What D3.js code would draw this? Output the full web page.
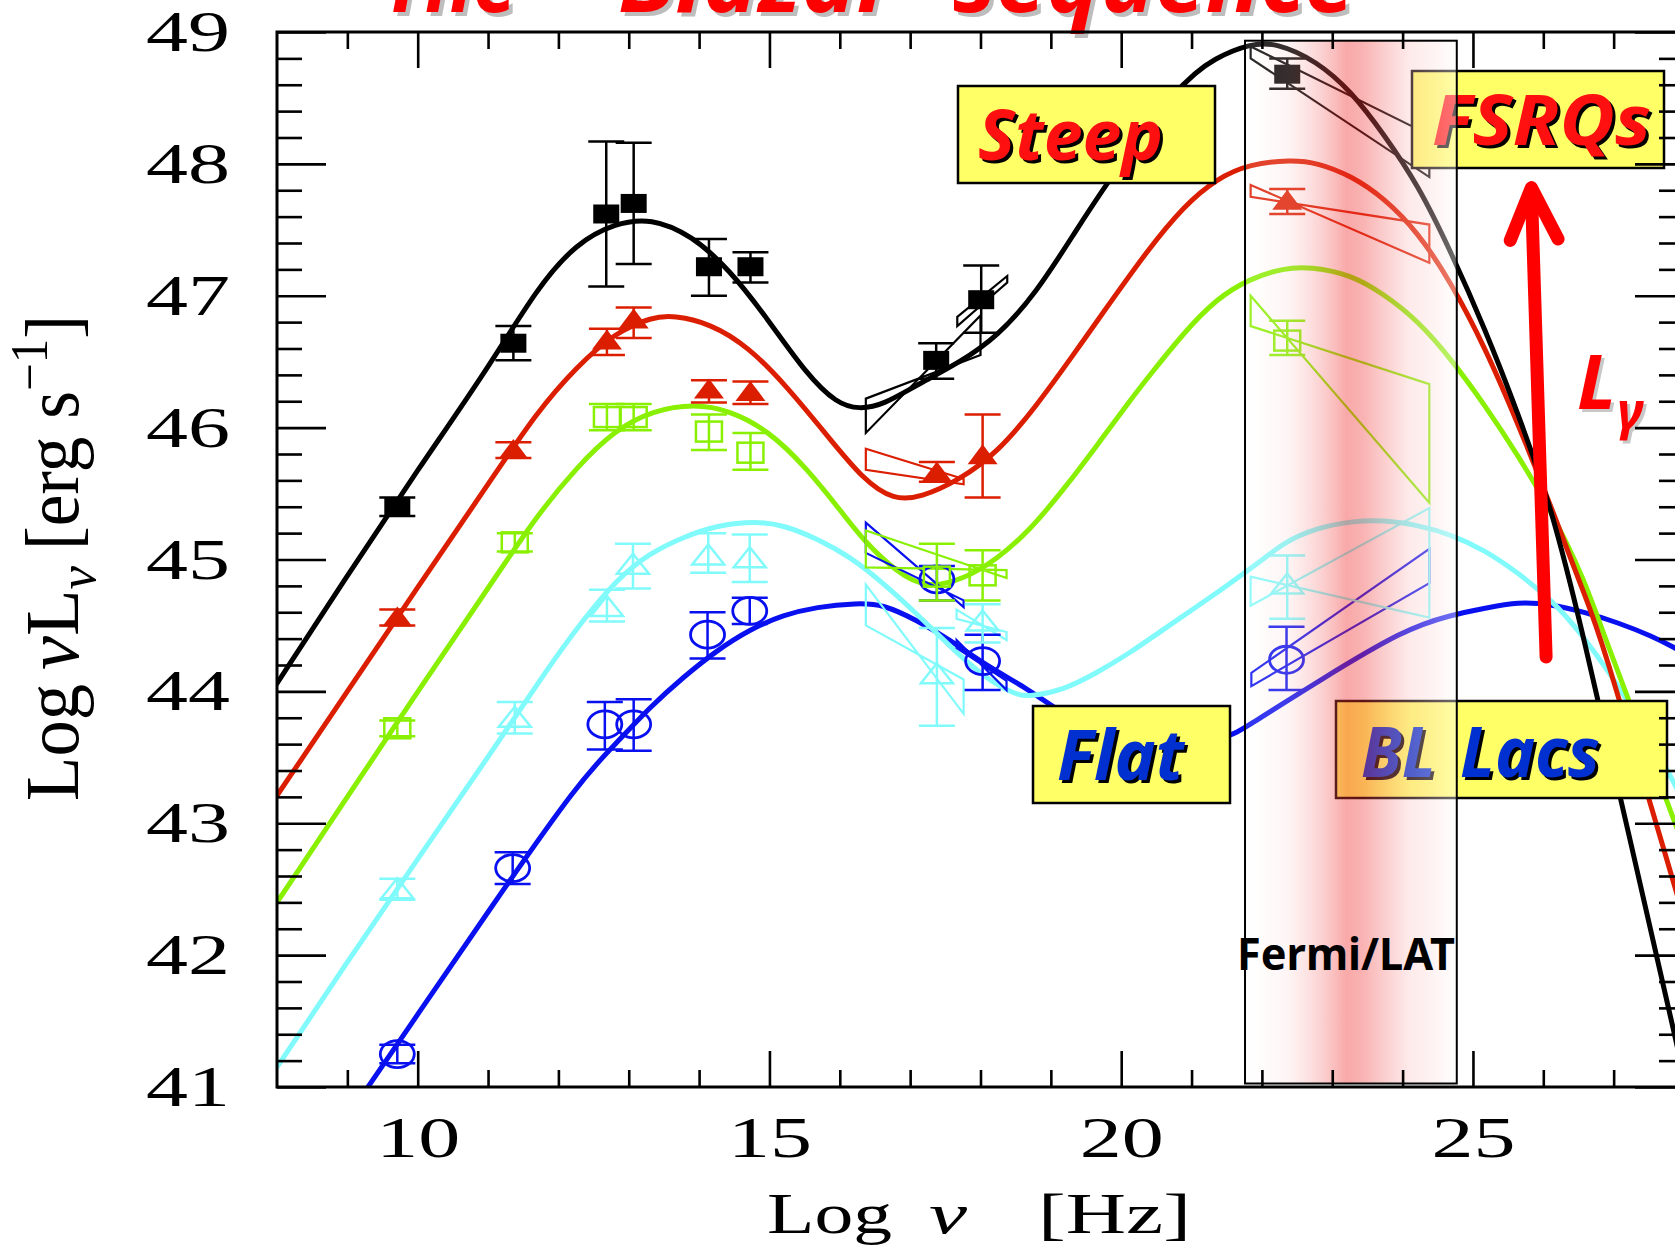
<!DOCTYPE html>
<html><head><meta charset="utf-8">
<script src="https://cdn.jsdelivr.net/npm/d3@7"></script>
<style>html,body{margin:0;padding:0;background:#fff;overflow:hidden}</style>
</head><body>
<svg id="chart" width="1675" height="1247" xmlns="http://www.w3.org/2000/svg"></svg>
<script>
// ---------------- DATA ----------------
const xTickLabels = [10, 15, 20, 25];
const yTickLabels = [41, 42, 43, 44, 45, 46, 47, 48, 49];
const xDomain = [8, 28];
const yDomain = [41, 49];
const fermiBand = [21.76, 24.77];

// model SED curves [log nu, log nuLnu]
const curveBlack = [[8,44.06],[9,44.88],[10,45.68],[11,46.45],[11.71,47.07],[12.26,47.40],[12.8,47.55],[13.32,47.59],[13.89,47.46],[14.43,47.20],[14.98,46.82],[15.52,46.41],[15.96,46.18],[16.28,46.14],[16.61,46.17],[17.15,46.34],[17.69,46.49],[18.24,46.69],[18.79,47.02],[19.33,47.47],[19.76,47.83],[20.82,48.61],[21.35,48.81],[21.83,48.91],[22.2,48.92],[22.78,48.78],[23.27,48.55],[23.74,48.22],[24.22,47.84],[24.69,47.33],[25.17,46.75],[25.64,46.11],[26.12,45.39],[26.55,44.47],[27.2,42.95],[27.87,41.39],[28,41.08]];
const curveRed = [[8,43.21],[9,44.0],[10,44.79],[11,45.57],[11.71,46.13],[12.26,46.46],[12.8,46.72],[13.34,46.84],[13.64,46.85],[14.16,46.79],[14.71,46.61],[15.25,46.31],[15.79,45.96],[16.34,45.60],[16.77,45.45],[17.15,45.47],[17.69,45.60],[18.24,45.81],[18.79,46.16],[19.33,46.56],[19.7,46.84],[20.38,47.35],[20.89,47.68],[21.36,47.89],[21.83,48.0],[22.41,48.03],[22.78,48.01],[23.27,47.91],[23.74,47.74],[24.22,47.48],[24.69,47.10],[25.17,46.61],[25.64,46.03],[26.12,45.39],[26.59,44.72],[26.79,44.47],[27.87,42.52],[28,42.28]];
const curveGreen = [[8,42.40],[9,43.2],[10,44.0],[11,44.78],[11.66,45.31],[12.26,45.70],[12.8,45.98],[13.34,46.13],[13.94,46.18],[14.43,46.13],[14.98,45.98],[15.52,45.70],[16.07,45.33],[16.33,45.15],[16.81,44.90],[17.24,44.78],[17.76,44.85],[18.23,45.0],[18.7,45.22],[19.18,45.53],[19.65,45.86],[20.13,46.21],[20.41,46.40],[20.89,46.72],[21.36,46.98],[21.83,47.13],[22.31,47.21],[22.69,47.22],[23.27,47.16],[23.74,47.01],[24.22,46.81],[24.69,46.52],[25.17,46.17],[25.64,45.79],[26.12,45.36],[26.59,44.84],[26.83,44.47],[27.87,43.01],[28,42.82]];
const curveCyan = [[8,41.15],[9,41.95],[10,42.73],[11,43.5],[11.88,44.20],[12.35,44.54],[12.83,44.85],[13.3,45.05],[13.78,45.17],[14.25,45.26],[14.82,45.29],[15.2,45.26],[15.67,45.16],[16.15,45.02],[16.62,44.82],[17.09,44.59],[17.57,44.34],[18.04,44.11],[18.51,43.97],[18.7,43.96],[19.18,44.01],[19.65,44.14],[20.12,44.29],[20.6,44.47],[21.07,44.64],[21.55,44.82],[22.02,45.0],[22.31,45.13],[22.78,45.24],[23.27,45.29],[23.74,45.30],[24.22,45.26],[24.69,45.19],[25.17,45.07],[25.64,44.90],[26.12,44.69],[26.5,44.47],[27.2,43.95],[27.87,43.3],[28,43.15]];
const curveBlue = [[9.1,40.85],[10,41.55],[11,42.33],[12.31,43.33],[12.83,43.61],[13.3,43.88],[13.78,44.11],[14.25,44.31],[14.72,44.47],[15.2,44.58],[15.67,44.64],[16.24,44.67],[16.62,44.66],[17.09,44.54],[17.57,44.39],[18.04,44.21],[18.7,44.01],[18.94,43.91],[20.2,43.5],[21.55,43.65],[21.77,43.73],[22.84,44.09],[24.02,44.47],[24.69,44.58],[25.17,44.63],[25.64,44.68],[26.12,44.66],[26.59,44.60],[27.07,44.52],[27.54,44.42],[27.87,44.33],[28,44.29]];

// data points [log nu, value, lower, upper]
const pointsBlack = [[9.71,45.40,45.33,45.47],[11.36,46.64,46.51,46.77],[12.68,47.62,47.07,48.17],[13.07,47.70,47.24,48.16],[14.14,47.22,47.00,47.43],[14.73,47.22,47.10,47.33],[17.37,46.51,46.37,46.64],[18.01,46.97,46.72,47.23],[22.36,48.68,48.57,48.80]];
const pointsRed = [[9.71,44.56,44.50,44.62],[11.36,45.83,45.77,45.89],[12.69,46.66,46.55,46.75],[13.07,46.82,46.68,46.91],[14.14,46.29,46.19,46.36],[14.73,46.27,46.18,46.35],[17.38,45.66,45.59,45.74],[18.03,45.79,45.47,46.10],[22.36,47.72,47.62,47.81]];
const pointsGreen = [[9.71,43.72,43.66,43.78],[11.38,45.13,45.06,45.20],[12.69,46.08,45.98,46.18],[13.07,46.08,45.98,46.18],[14.14,45.97,45.83,46.10],[14.73,45.81,45.68,45.96],[17.38,44.87,44.69,45.12],[18.03,44.88,44.69,45.07],[22.36,46.66,46.55,46.81]];
const pointsCyan = [[9.71,42.50,42.42,42.58],[11.38,43.80,43.68,43.92],[12.69,44.64,44.53,44.77],[13.06,44.96,44.78,45.12],[14.13,45.03,44.90,45.20],[14.72,45.01,44.83,45.19],[17.38,44.13,43.74,44.48],[18.03,44.53,44.37,44.66],[22.36,44.81,44.55,45.03]];
const pointsBlue = [[9.71,41.25,41.18,41.32],[11.35,42.66,42.54,42.78],[12.66,43.75,43.56,43.92],[13.07,43.75,43.55,43.94],[14.12,44.43,44.25,44.60],[14.72,44.61,44.51,44.71],[17.38,44.85,44.69,44.95],[18.03,44.23,44.01,44.43],[22.35,44.24,44.01,44.49]];

// spectral "bow-ties" (X-ray and Fermi/LAT)
const bowBlack = [[[16.37,46.22],[18.0,46.55],[18.0,46.85],[16.37,45.96]],[[17.67,46.84],[18.38,47.15],[18.38,47.10],[17.67,46.77]],[[21.84,48.89],[24.38,48.22],[24.38,47.90],[21.84,48.80]]];
const bowRed = [[[16.37,45.84],[17.76,45.61],[17.76,45.57],[16.37,45.68]],[[21.84,47.84],[24.38,47.25],[24.38,47.54],[21.84,47.75]]];
const bowGreen = [[[16.37,45.22],[18.37,44.86],[18.37,44.92],[16.37,44.94]],[[21.84,47.0],[24.38,45.43],[24.38,46.33],[21.84,46.77]]];
const bowCyan = [[[16.37,44.81],[17.76,43.83],[17.76,44.09],[16.37,44.50]],[[17.66,44.62],[18.37,44.39],[18.37,44.45],[17.66,44.55]],[[21.84,44.87],[24.38,44.56],[24.38,45.39],[21.84,44.65]]];
const bowBlue = [[[16.37,45.28],[17.76,44.64],[17.76,44.69],[16.37,45.05]],[[17.66,44.39],[18.37,44.01],[18.37,44.08],[17.66,44.33]],[[21.85,44.14],[24.38,45.08],[24.38,44.82],[21.85,44.04]]];

// arrow (L_gamma increasing) in data coordinates
const arrowShaft = [[26.04,44.26],[25.83,47.80]];
const arrowHead = [[25.53,47.42],[25.83,47.82],[26.21,47.43]];

// ---------------- STYLE ----------------
const palette = {black:"#000000", red:"#dc1e00", green:"#88f000", cyan:"#80fafa", blue:"#0810f0"};
const series = [
  {name:"blue",  curve:curveBlue,  pts:pointsBlue,  bows:bowBlue,  marker:"circleOpen"},
  {name:"cyan",  curve:curveCyan,  pts:pointsCyan,  bows:bowCyan,  marker:"triangleOpen"},
  {name:"green", curve:curveGreen, pts:pointsGreen, bows:bowGreen, marker:"squareOpen"},
  {name:"red",   curve:curveRed,   pts:pointsRed,   bows:bowRed,   marker:"triangleFilled"},
  {name:"black", curve:curveBlack, pts:pointsBlack, bows:bowBlack, marker:"squareFilled"}
];

const svg = d3.select("#chart");
const x = d3.scaleLinear().domain(xDomain).range([277, 1684]);
const y = d3.scaleLinear().domain(yDomain).range([1087, 32]);
const defs = svg.append("defs");
defs.append("clipPath").attr("id","plotclip").append("rect")
  .attr("x", x(xDomain[0])).attr("y", y(yDomain[1]))
  .attr("width", x(xDomain[1]) - x(xDomain[0])).attr("height", y(yDomain[0]) - y(yDomain[1]));

svg.append("rect").attr("width",1675).attr("height",1247).attr("fill","#fff");

const plot = svg.append("g").attr("clip-path","url(#plotclip)");
const line = d3.line().x(d => x(d[0])).y(d => y(d[1])).curve(d3.curveBasis);
const poly = d3.line().x(d => x(d[0])).y(d => y(d[1]));

// curves
series.forEach(s => {
  plot.append("path").datum(s.curve).attr("d", line)
    .attr("fill","none").attr("stroke", palette[s.name]).attr("stroke-width",5)
    .attr("stroke-linejoin","round").attr("stroke-linecap","round");
});
// bow-ties
series.forEach(s => {
  plot.selectAll(null).data(s.bows).enter().append("path")
    .attr("d", d => poly(d) + "Z")
    .attr("fill","none").attr("stroke", palette[s.name]).attr("stroke-width",2.2).attr("stroke-linejoin","miter");
});
// error bars and markers
function drawMarker(g, type, cx, cy, col) {
  if (type === "squareFilled") {
    g.append("rect").attr("x",cx-13).attr("y",cy-9.5).attr("width",26).attr("height",19).attr("fill",col);
  } else if (type === "squareOpen") {
    g.append("rect").attr("x",cx-13).attr("y",cy-10).attr("width",26).attr("height",20).attr("fill","none").attr("stroke",col).attr("stroke-width",2.5);
  } else if (type === "triangleFilled") {
    g.append("path").attr("d",`M${cx},${cy-11}L${cx+15},${cy+9}L${cx-15},${cy+9}Z`).attr("fill",col);
  } else if (type === "triangleOpen") {
    g.append("path").attr("d",`M${cx},${cy-11}L${cx+16},${cy+9}L${cx-16},${cy+9}Z`).attr("fill","none").attr("stroke",col).attr("stroke-width",2.5);
  } else if (type === "circleOpen") {
    g.append("ellipse").attr("cx",cx).attr("cy",cy).attr("rx",17).attr("ry",13.5).attr("fill","none").attr("stroke",col).attr("stroke-width",2.8);
  }
}
series.forEach(s => {
  const col = palette[s.name];
  s.pts.forEach(p => {
    const g = plot.append("g");
    const cx = x(p[0]), cy = y(p[1]), ylo = y(p[2]), yhi = y(p[3]);
    g.append("line").attr("x1",cx).attr("x2",cx).attr("y1",ylo).attr("y2",yhi).attr("stroke",col).attr("stroke-width",2.5);
    [ylo, yhi].forEach(v => g.append("line").attr("x1",cx-18).attr("x2",cx+18).attr("y1",v).attr("y2",v).attr("stroke",col).attr("stroke-width",2.5));
    drawMarker(g, s.marker, cx, cy, col);
  });
});

// ---------------- annotation boxes ----------------
const comic = "'Noto Sans', 'DejaVu Sans', sans-serif";
function box(bx, by, bw, bh) {
  svg.append("rect").attr("x",bx).attr("y",by).attr("width",bw).attr("height",bh)
    .attr("fill","#ffff66").attr("stroke","#000").attr("stroke-width",2.5);
}
function shadowText(str, tx, ty, size, len, fill, shadow, off) {
  [[shadow, off],[fill, 0]].forEach(([c, o]) => {
    svg.append("text").attr("x",tx+o).attr("y",ty+o).text(str)
      .attr("font-family",comic).attr("font-weight","bold").attr("font-style","italic")
      .attr("font-size",size).attr("fill",c)
      .attr("textLength",len).attr("lengthAdjust","spacingAndGlyphs");
  });
}
box(958, 86, 257, 97);   shadowText("Steep", 978, 160, 70, 185, "#ff1010", "#000", 3);
box(1412, 71, 252, 97);  shadowText("FSRQs", 1432, 145, 70, 219, "#ff1010", "#000", 3);
box(1033, 706, 197, 97); shadowText("Flat", 1057, 780, 70, 127, "#0030d0", "#000", 3);
box(1336, 701, 331, 97); shadowText("BL", 1361, 777, 70, 75, "#0030d0", "#000", 3);
shadowText("Lacs", 1460, 777, 70, 140, "#0030d0", "#000", 3);

// ---------------- Fermi/LAT band ----------------
const grad = defs.append("linearGradient").attr("id","fermiGrad").attr("x1","0").attr("x2","1").attr("y1","0").attr("y2","0");
[[0,"#ffffff",0.15],[0.2,"#fbd0d0",0.22],[0.35,"#f57070",0.3],[0.48,"#f03030",0.42],[0.56,"#f03838",0.38],[0.78,"#fbc0c0",0.32],[1,"#ffffff",0.42]]
  .forEach(([o,c,a]) => grad.append("stop").attr("offset",o).attr("stop-color",c).attr("stop-opacity",a));
const bandTop = 40.7, bandBot = 1083.5;
svg.append("rect").attr("x",x(fermiBand[0])).attr("y",bandTop)
  .attr("width",x(fermiBand[1])-x(fermiBand[0])).attr("height",bandBot-bandTop)
  .attr("fill","url(#fermiGrad)");
svg.append("rect").attr("x",x(fermiBand[0])).attr("y",bandTop)
  .attr("width",x(fermiBand[1])-x(fermiBand[0])).attr("height",bandBot-bandTop)
  .attr("fill","none").attr("stroke","#000").attr("stroke-width",2);
svg.append("text").attr("x",1237).attr("y",970).text("Fermi/LAT")
  .attr("font-family",comic).attr("font-weight","bold").attr("font-size",44).attr("fill","#000")
  .attr("textLength",218).attr("lengthAdjust","spacingAndGlyphs");

// ---------------- arrow and L_gamma ----------------
svg.append("path").attr("d", poly(arrowShaft)).attr("stroke","#ff0000").attr("stroke-width",13).attr("fill","none").attr("stroke-linecap","round");
svg.append("path").attr("d", poly(arrowHead)).attr("stroke","#ff0000").attr("stroke-width",13).attr("fill","none").attr("stroke-linecap","round").attr("stroke-linejoin","round");
[["#c8c8c8",3],["#ff0000",0]].forEach(([c,o]) => {
  svg.append("text").attr("x",1577+o).attr("y",409+o).text("L")
    .attr("font-family",comic).attr("font-weight","bold").attr("font-style","italic").attr("font-size",76).attr("fill",c);
  svg.append("text").attr("x",1617+o).attr("y",429+o).text("γ")
    .attr("font-family",comic).attr("font-weight","bold").attr("font-style","italic").attr("font-size",52).attr("fill",c);
});

// ---------------- title (cut off at top) ----------------
[["The",383,134],["Blazar",618,278],["sequence",953,402]].forEach(([w,tx,len]) => {
  [["#bdbdbd",4],["#ff0000",0]].forEach(([c,o]) => {
    svg.append("text").attr("x",tx+o).attr("y",12+o).text(w)
      .attr("font-family",comic).attr("font-weight","bold").attr("font-style","italic")
      .attr("font-size",90).attr("fill",c).attr("textLength",len).attr("lengthAdjust","spacingAndGlyphs");
  });
});

// ---------------- axes ----------------
const serif = "'Liberation Serif', 'DejaVu Serif', serif";
const xMinor = d3.range(xDomain[0]+1, xDomain[1]).filter(v => v % 5 !== 0);
const yMinor = d3.range(0, 41).map(i => +(yDomain[0] + i*0.2).toFixed(1)).filter(v => Math.abs(v - Math.round(v)) > 1e-6);
function axisG(axis, transform, labelled) {
  const g = svg.append("g").attr("transform", transform).call(axis);
  g.select(".domain").remove();
  g.attr("font-family", null).attr("font-size", null);
  g.selectAll(".tick line").attr("stroke","#000").attr("stroke-width",2.6);
  if (labelled) {
    g.selectAll(".tick text").attr("font-family",serif).attr("font-size",58).attr("fill","#000")
      .attr("textLength",84).attr("lengthAdjust","spacingAndGlyphs");
  }
  return g;
}
const yB = y(yDomain[0]), yT = y(yDomain[1]), xL = x(xDomain[0]), xR = x(xDomain[1]);
axisG(d3.axisBottom(x).tickValues(xMinor).tickSize(-17).tickSizeOuter(0).tickFormat(""), `translate(0,${yB})`, false);
axisG(d3.axisBottom(x).tickValues(xTickLabels).tickSize(-36).tickSizeOuter(0).tickPadding(29).tickFormat(d3.format("d")), `translate(0,${yB})`, true);
axisG(d3.axisTop(x).tickValues(xMinor).tickSize(-17).tickSizeOuter(0).tickFormat(""), `translate(0,${yT})`, false);
axisG(d3.axisTop(x).tickValues(xTickLabels).tickSize(-36).tickSizeOuter(0).tickFormat(""), `translate(0,${yT})`, false);
axisG(d3.axisLeft(y).tickValues(yMinor).tickSize(-25).tickSizeOuter(0).tickFormat(""), `translate(${xL},0)`, false);
axisG(d3.axisLeft(y).tickValues(yTickLabels).tickSize(-49).tickSizeOuter(0).tickPadding(47).tickFormat(d3.format("d")), `translate(${xL},0)`, true);
axisG(d3.axisRight(y).tickValues(yMinor).tickSize(-25).tickSizeOuter(0).tickFormat(""), `translate(${xR},0)`, false);
axisG(d3.axisRight(y).tickValues(yTickLabels).tickSize(-49).tickSizeOuter(0).tickFormat(""), `translate(${xR},0)`, false);
svg.append("rect").attr("x",xL).attr("y",yT).attr("width",xR-xL).attr("height",yB-yT)
  .attr("fill","none").attr("stroke","#000").attr("stroke-width",3);

// axis titles
[["Log",767,125,"normal"],["ν",929,38,"italic"],["[Hz]",1038,153,"normal"]].forEach(([t,tx,len,st]) => {
  svg.append("text").attr("x",tx).attr("y",1233).text(t)
    .attr("font-family",serif).attr("font-size",58).attr("font-style",st).attr("fill","#000")
    .attr("textLength",len).attr("lengthAdjust","spacingAndGlyphs");
});
const yt = svg.append("g").attr("transform","translate(78,0) scale(1.3,1) rotate(-90)")
  .attr("font-family",serif).attr("font-size",58).attr("fill","#000");
yt.append("text").attr("x",-801).attr("y",0).text("Log").attr("textLength",117).attr("lengthAdjust","spacingAndGlyphs");
const t2 = yt.append("text").attr("x",-670).attr("y",0).attr("textLength",104).attr("lengthAdjust","spacingAndGlyphs");
t2.append("tspan").attr("font-style","italic").text("ν");
t2.append("tspan").text("L");
t2.append("tspan").attr("font-style","italic").attr("font-size",40).attr("dy",13).text("ν");
const t3 = yt.append("text").attr("x",-550).attr("y",0).attr("textLength",235).attr("lengthAdjust","spacingAndGlyphs");
t3.append("tspan").text("[erg s");
t3.append("tspan").attr("font-size",40).attr("dy",-24).text("−1");
t3.append("tspan").attr("dy",24).text("]");
</script></body></html>
